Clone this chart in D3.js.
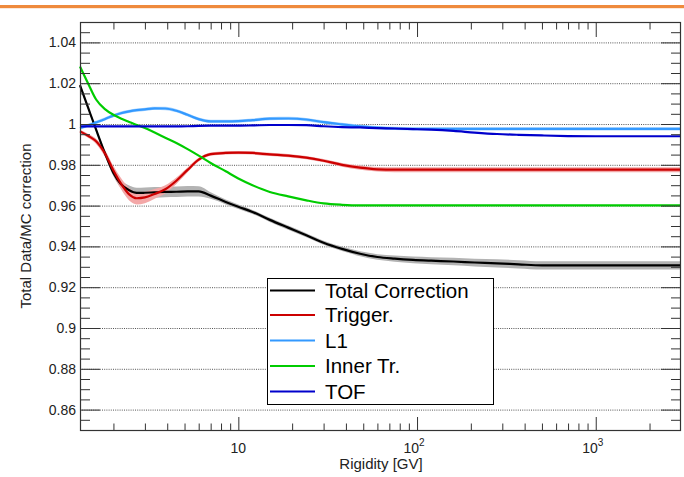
<!DOCTYPE html>
<html>
<head>
<meta charset="utf-8">
<script src="https://cdn.jsdelivr.net/npm/d3@7"></script>
<style>
  html, body { margin: 0; padding: 0; background: #fff; }
  svg { display: block; font-family: "Liberation Sans", Arial, Helvetica, sans-serif; }
</style>
</head>
<body>
<svg id="chart" width="684" height="477"></svg>
<script>
// ---- Data ----
const rigidity = [1.3, 1.45, 1.6, 1.8, 2.0, 2.2, 2.45, 2.7, 3.0, 3.4, 3.9, 4.5, 5.2, 6.0, 7.0, 8.5, 10, 12, 15, 19, 24, 30, 38, 48, 60, 75, 95, 120, 160, 210, 280, 370, 500, 700, 1000, 1500, 2000, 3000];

const totalCorrection = [1.019, 1.0075, 0.9972, 0.9853, 0.9760, 0.9706, 0.9675, 0.9662, 0.9663, 0.9665, 0.9667, 0.9668, 0.9670, 0.9670, 0.9649, 0.9618, 0.9594, 0.9569, 0.9530, 0.9492, 0.9455, 0.9418, 0.9388, 0.9364, 0.9348, 0.9340, 0.9334, 0.9330, 0.9326, 0.9321, 0.9317, 0.9312, 0.9307, 0.9307, 0.9307, 0.9307, 0.9307, 0.9307];
const totalError = [0.001, 0.001, 0.001, 0.0012, 0.0016, 0.002, 0.0024, 0.0026, 0.0026, 0.0026, 0.0026, 0.0026, 0.0026, 0.0025, 0.0016, 0.0012, 0.0011, 0.001, 0.001, 0.001, 0.001, 0.001, 0.0011, 0.0012, 0.0014, 0.0015, 0.0016, 0.0017, 0.0018, 0.0019, 0.002, 0.002, 0.002, 0.002, 0.002, 0.002, 0.002, 0.002];

const trigger = [0.9964, 0.9941, 0.9915, 0.9853, 0.9772, 0.9709, 0.9655, 0.9636, 0.9640, 0.9657, 0.9680, 0.9722, 0.9775, 0.9825, 0.9852, 0.9858, 0.9860, 0.9858, 0.9851, 0.9845, 0.9835, 0.9820, 0.9800, 0.9786, 0.9778, 0.9776, 0.9776, 0.9776, 0.9776, 0.9776, 0.9776, 0.9776, 0.9776, 0.9776, 0.9776, 0.9776, 0.9776, 0.9776];
const triggerError = [0.0008, 0.001, 0.0013, 0.0017, 0.0022, 0.0027, 0.003, 0.003, 0.0028, 0.0024, 0.002, 0.0016, 0.0012, 0.0009, 0.0008, 0.0008, 0.0008, 0.0008, 0.0008, 0.0008, 0.0008, 0.0008, 0.0009, 0.001, 0.0011, 0.0012, 0.0012, 0.0012, 0.0012, 0.0012, 0.0012, 0.0012, 0.0012, 0.0012, 0.0012, 0.0012, 0.0012, 0.0012];

const l1 = [0.9980, 0.9994, 1.0008, 1.0025, 1.0041, 1.0053, 1.0062, 1.0068, 1.0072, 1.0077, 1.0076, 1.0065, 1.0045, 1.0024, 1.0013, 1.0013, 1.0014, 1.0019, 1.0026, 1.0027, 1.0022, 1.0009, 0.9998, 0.9988, 0.9982, 0.9978, 0.9976, 0.9976, 0.9976, 0.9976, 0.9976, 0.9976, 0.9976, 0.9976, 0.9976, 0.9976, 0.9976, 0.9976];
const l1Error = [0.0008, 0.0008, 0.0008, 0.0008, 0.0008, 0.0008, 0.0008, 0.0008, 0.0008, 0.0008, 0.0008, 0.0008, 0.0008, 0.0008, 0.0008, 0.0008, 0.0008, 0.0008, 0.0008, 0.0008, 0.0008, 0.0008, 0.0008, 0.0008, 0.0008, 0.0008, 0.0008, 0.0008, 0.0008, 0.0008, 0.0008, 0.0008, 0.0008, 0.0008, 0.0008, 0.0008, 0.0008, 0.0008];

const innerTr = [1.0282, 1.0195, 1.0120, 1.0072, 1.0045, 1.0027, 1.0010, 0.9995, 0.9980, 0.9958, 0.9933, 0.9907, 0.9877, 0.9845, 0.9809, 0.9768, 0.9733, 0.9700, 0.9667, 0.9645, 0.9626, 0.9611, 0.9604, 0.9601, 0.9601, 0.9601, 0.9601, 0.9601, 0.9601, 0.9601, 0.9601, 0.9601, 0.9601, 0.9601, 0.9601, 0.9601, 0.9601, 0.9601];

const tof = [0.9988, 0.9988, 0.9988, 0.9988, 0.9988, 0.9988, 0.9988, 0.9988, 0.9988, 0.9988, 0.9988, 0.9988, 0.9989, 0.9991, 0.9992, 0.9992, 0.9992, 0.9993, 0.9995, 0.9995, 0.9994, 0.9989, 0.9985, 0.9983, 0.9980, 0.9978, 0.9975, 0.9972, 0.9966, 0.9958, 0.9951, 0.9947, 0.9944, 0.9941, 0.9940, 0.9940, 0.9940, 0.9940];

const seriesNames = ["Total Correction", "Trigger.", "L1", "Inner Tr.", "TOF"];
const seriesColors = ["#000000", "#cc0000", "#3399ff", "#00cc00", "#0000cc"];
const yMajorTicks = [0.86, 0.88, 0.9, 0.92, 0.94, 0.96, 0.98, 1, 1.02, 1.04];
const yTickLabels = ["0.86", "0.88", "0.9", "0.92", "0.94", "0.96", "0.98", "1", "1.02", "1.04"];
const xMajorTicks = [10, 100, 1000];
const xTickBase = ["10", "10", "10"];
const xTickExp = ["", "2", "3"];

// ---- Layout ----
const svg = d3.select("#chart");
const L = 80, R = 681, T = 22, B = 430;
const x = d3.scaleLog().domain([1.3, 3000]).range([L, R]);
const y = d3.scaleLinear().domain([0.85, 1.05]).range([B, T]);

// orange banner line
svg.append("rect").attr("x", 0).attr("y", 5).attr("width", 684).attr("height", 3.2).attr("fill", "#ef8a3c");

// grid lines
svg.append("g").selectAll("line").data(yMajorTicks).join("line")
  .attr("x1", L).attr("x2", R)
  .attr("y1", d => y(d) + 0.5).attr("y2", d => y(d) + 0.5)
  .attr("stroke", "#555").attr("stroke-width", 1).attr("stroke-dasharray", "1,1.2");

// bands
const area = (vals, errs) => d3.area().x((d, i) => x(rigidity[i])).y0((d, i) => y(vals[i] - errs[i])).y1((d, i) => y(vals[i] + errs[i])).curve(d3.curveMonotoneX);
svg.append("path").datum(rigidity).attr("d", area(totalCorrection, totalError)).attr("fill", "#b3b3b3");
svg.append("path").datum(rigidity).attr("d", area(trigger, triggerError)).attr("fill", "#f3a7a7");
svg.append("path").datum(rigidity).attr("d", area(l1, l1Error)).attr("fill", "#acd6ff");

// lines
const series = [totalCorrection, trigger, l1, innerTr, tof];
const line = vals => d3.line().x((d, i) => x(rigidity[i])).y((d, i) => y(vals[i])).curve(d3.curveMonotoneX);
const drawOrder = [0, 1, 2, 3, 4];
drawOrder.forEach(k => {
  svg.append("path").datum(rigidity).attr("d", line(series[k]))
    .attr("fill", "none").attr("stroke", seriesColors[k]).attr("stroke-width", 2.2);
});

// axes: minor ticks
const yMinor = d3.range(0.855, 1.0501, 0.005).map(v => +v.toFixed(3)).filter(v => !yMajorTicks.some(m => Math.abs(m - v) < 1e-6));
const xMinor = [];
[1, 10, 100, 1000].forEach(dec => { for (let k = 2; k <= 9; k++) { const v = k * dec; if (v > 1.3 && v < 3000) xMinor.push(v); } });

const axisColor = "#333";
function styleAxis(g) { g.select(".domain").remove(); g.selectAll("line").attr("stroke", axisColor); }

svg.append("g").attr("transform", `translate(${L},0)`).call(d3.axisRight(y).tickValues(yMajorTicks).tickSize(20).tickFormat("")).call(styleAxis);
svg.append("g").attr("transform", `translate(${L},0)`).call(d3.axisRight(y).tickValues(yMinor).tickSize(10).tickFormat("")).call(styleAxis);
svg.append("g").attr("transform", `translate(${R},0)`).call(d3.axisLeft(y).tickValues(yMajorTicks).tickSize(20).tickFormat("")).call(styleAxis);
svg.append("g").attr("transform", `translate(${R},0)`).call(d3.axisLeft(y).tickValues(yMinor).tickSize(10).tickFormat("")).call(styleAxis);

svg.append("g").attr("transform", `translate(0,${B})`).call(d3.axisTop(x).tickValues(xMajorTicks).tickSize(13).tickFormat("")).call(styleAxis);
svg.append("g").attr("transform", `translate(0,${B})`).call(d3.axisTop(x).tickValues(xMinor).tickSize(6.5).tickFormat("")).call(styleAxis);
svg.append("g").attr("transform", `translate(0,${T})`).call(d3.axisBottom(x).tickValues(xMajorTicks).tickSize(15).tickFormat("")).call(styleAxis);
svg.append("g").attr("transform", `translate(0,${T})`).call(d3.axisBottom(x).tickValues(xMinor).tickSize(7.5).tickFormat("")).call(styleAxis);

// frame
svg.append("rect").attr("x", L + 0.5).attr("y", T + 0.5).attr("width", R - L - 1).attr("height", B - T)
  .attr("fill", "none").attr("stroke", axisColor).attr("stroke-width", 1.2);

// y tick labels
svg.append("g").selectAll("text").data(yMajorTicks).join("text")
  .attr("x", 76).attr("y", d => y(d)).attr("dy", "0.36em")
  .attr("text-anchor", "end").attr("font-size", 14).attr("fill", "#222")
  .text((d, i) => yTickLabels[i]);

// x tick labels
const xl = svg.append("g").selectAll("text").data(xMajorTicks).join("text")
  .attr("x", (d, i) => x(d) + (xTickExp[i] ? -3 : 0)).attr("y", 453)
  .attr("text-anchor", "middle").attr("font-size", 14).attr("fill", "#222");
xl.append("tspan").text((d, i) => xTickBase[i]);
xl.append("tspan").attr("dy", -7).attr("font-size", 10).text((d, i) => xTickExp[i]);

// axis titles
svg.append("text").attr("x", 381).attr("y", 469).attr("text-anchor", "middle")
  .attr("font-size", 15).attr("fill", "#222").text("Rigidity [GV]");
svg.append("text").attr("transform", "translate(31,226) rotate(-90)").attr("text-anchor", "middle")
  .attr("font-size", 15).attr("fill", "#222").text("Total Data/MC correction");

// legend
const lg = svg.append("g");
lg.append("rect").attr("x", 267.5).attr("y", 278.5).attr("width", 226).attr("height", 126)
  .attr("fill", "#fff").attr("stroke", "#000").attr("stroke-width", 1);
const rowsY = [290.5, 315, 340.5, 366, 391.5];
seriesNames.forEach((name, i) => {
  lg.append("line").attr("x1", 270).attr("x2", 315).attr("y1", rowsY[i]).attr("y2", rowsY[i])
    .attr("stroke", seriesColors[i]).attr("stroke-width", 2.2);
  lg.append("text").attr("x", 325).attr("y", rowsY[i]).attr("dy", "0.36em")
    .attr("font-size", 20.5).attr("fill", "#000").text(name);
});
</script>
</body>
</html>
